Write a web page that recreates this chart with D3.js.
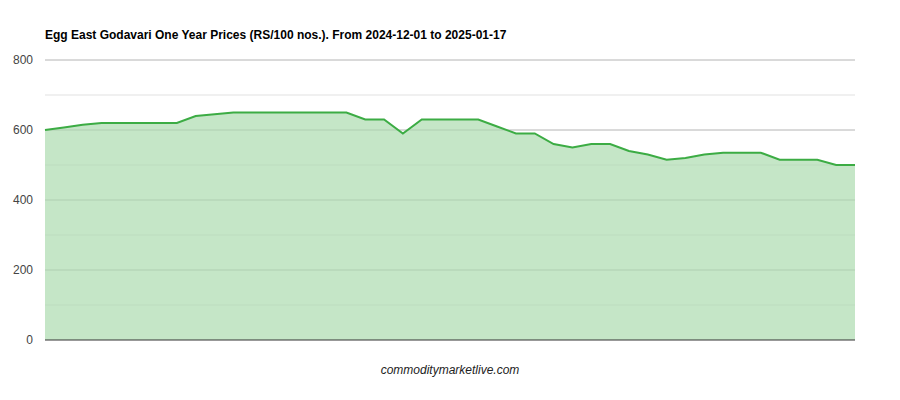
<!DOCTYPE html>
<html><head><meta charset="utf-8">
<script src="https://cdn.jsdelivr.net/npm/d3@7"></script>
<style>body{margin:0;background:#fff;font-family:Arial,"Liberation Sans",sans-serif}</style>
</head><body>
<script>
const width = 900, height = 400;
const margin = {top: 60, right: 45, bottom: 60, left: 45};

const title = 'Egg East Godavari One Year Prices (RS/100 nos.). From 2024-12-01 to 2025-01-17';
const prices = [600, 607, 615, 620, 620, 620, 620, 620, 640, 645, 650, 650, 650, 650, 650, 650, 650,
	630, 630, 590, 630, 630, 630, 630, 610, 590, 590, 560, 550, 560, 560, 540, 530, 515, 520, 530,
	535, 535, 535, 515, 515, 515, 500, 500];
const yTicks = [0, 200, 400, 600, 800];
const yGrid = [100, 200, 300, 400, 500, 600, 700, 800];

const svg = d3.select('body').append('svg')
	.attr('width', width).attr('height', height);

const x = d3.scaleLinear().domain([0, prices.length - 1]).range([margin.left, width - margin.right]);
const y = d3.scaleLinear().domain([0, 800]).range([height - margin.bottom, margin.top]);

svg.append('text').attr('x', 45).attr('y', 39)
	.attr('font-size', 12).attr('font-weight', 'bold').attr('fill', '#000').text(title);

svg.append('g').selectAll('line').data(yGrid).join('line')
	.attr('x1', margin.left).attr('x2', width - margin.right)
	.attr('y1', d => y(d)).attr('y2', d => y(d))
	.attr('stroke', d => d % 200 === 0 ? '#ccc' : '#ebebeb');

svg.append('path')
	.attr('d', d3.area().x((d, i) => x(i)).y0(y(0)).y1(d => y(d))(prices))
	.attr('fill', '#c5e6c7');

svg.append('g').selectAll('line').data(yGrid).join('line')
	.attr('x1', margin.left).attr('x2', width - margin.right)
	.attr('y1', d => y(d)).attr('y2', d => y(d))
	.attr('stroke', '#000').attr('stroke-opacity', d => d % 200 === 0 ? 0.1 : 0.04);

svg.append('path')
	.attr('d', d3.line().x((d, i) => x(i)).y(d => y(d))(prices))
	.attr('fill', 'none').attr('stroke', '#3cac44').attr('stroke-width', 2);

svg.append('line').attr('x1', margin.left).attr('x2', width - margin.right)
	.attr('y1', y(0)).attr('y2', y(0)).attr('stroke', '#333');

svg.append('g').selectAll('text').data(yTicks).join('text')
	.attr('x', 33).attr('y', d => y(d) + 4).attr('text-anchor', 'end')
	.attr('font-size', 12).attr('fill', '#444').text(d => d);

svg.append('text').attr('x', 450).attr('y', 374).attr('text-anchor', 'middle')
	.attr('font-size', 12).attr('font-style', 'italic').attr('fill', '#222')
	.text('commoditymarketlive.com');
</script>
</body></html>
